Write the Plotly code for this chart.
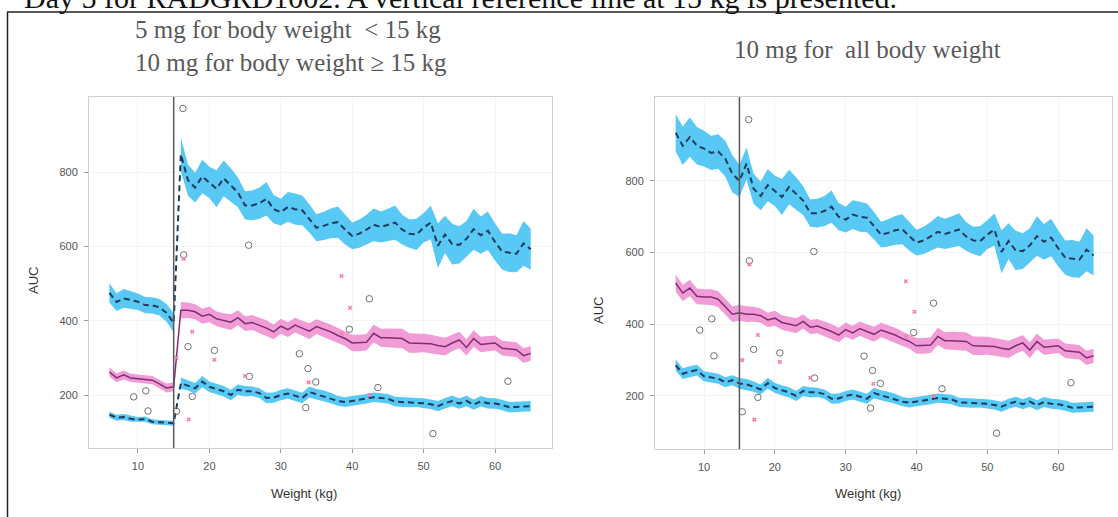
import plotly.graph_objects as go

# ---------------- data ----------------
REF_WEIGHT = 15
weights_lo5 = [6, 7, 8, 9, 10, 11, 12, 13, 14, 15]
weights_lo10 = [6, 7, 8, 9, 10, 11, 12, 13, 14]
weights_hi = list(range(15, 66))

# 5 mg below 15 kg (left panel)
p95_5mg = [475, 450, 460, 455, 451, 442, 441, 436, 421, 394]
p50_5mg = [262, 246, 254, 246, 244, 242, 240, 230, 219, 222]
p05_5mg = [147, 139, 141, 136, 134, 135, 128, 126, 125, 124]
hw95_5mg = [26, 24, 25, 24, 22, 22, 22, 22, 24, 26]
hw50_5mg = [12, 12, 12, 11, 11, 11, 11, 11, 12, 12]
hw05_5mg = [8, 8, 8, 8, 7, 7, 7, 7, 7, 7]

# 10 mg below 15 kg (right panel)
p95_10mg_lo = [934, 898, 922, 898, 890, 878, 882, 862, 820]
p50_10mg_lo = [515, 487, 501, 478, 476, 476, 470, 448, 428]
p05_10mg_lo = [286, 262, 268, 272, 255, 252, 248, 238, 244]
hw95_10mg_lo = [52, 54, 55, 52, 50, 48, 48, 50, 52]
hw50_10mg_lo = [24, 23, 23, 22, 22, 22, 22, 22, 22]
hw05_10mg_lo = [16, 15, 15, 15, 14, 14, 14, 14, 14]

# 10 mg from 15 kg upward (both panels)
p95_10mg_hi = [800, 848, 778, 758, 788, 772, 755, 783, 765, 745, 710, 710, 716, 728, 700, 692, 706,
               700, 697, 675, 650, 655, 662, 665, 645, 628, 634, 645, 658, 652, 657, 664, 645, 634,
               632, 650, 664, 602, 632, 606, 604, 620, 646, 630, 642, 612, 586, 583, 580, 608, 592]
p50_10mg_hi = [432, 428, 428, 424, 412, 417, 405, 400, 396, 408, 392, 395, 388, 380, 370, 385, 376,
               388, 380, 372, 384, 378, 370, 360, 352, 340, 340, 342, 366, 354, 354, 353, 352, 340,
               340, 340, 338, 333, 330, 340, 348, 328, 352, 336, 338, 340, 326, 324, 322, 306, 312]
p05_10mg_hi = [235, 232, 226, 218, 236, 222, 216, 210, 200, 214, 210, 210, 205, 192, 193, 200, 204,
               198, 192, 208, 202, 198, 192, 184, 181, 184, 186, 190, 194, 192, 190, 182, 181, 180,
               181, 178, 175, 170, 178, 184, 177, 184, 174, 183, 178, 177, 173, 167, 168, 169, 170]
hw95_10mg_hi = [45, 45, 42, 40, 45, 42, 50, 48, 45, 40, 38, 40, 42, 45, 38, 36, 40,
                42, 40, 38, 36, 38, 40, 42, 40, 36, 38, 40, 44, 42, 44, 46, 40, 38,
                42, 40, 45, 60, 50, 55, 50, 48, 55, 50, 52, 50, 48, 52, 50, 60, 55]
hw50_10mg_hi = [22, 22, 21, 20, 20, 21, 20, 20, 21, 20, 20, 20, 20, 21, 20, 20, 20,
                20, 20, 21, 20, 20, 20, 20, 20, 22, 22, 22, 24, 24, 25, 26, 26, 26,
                26, 25, 24, 24, 24, 22, 22, 22, 22, 21, 21, 20, 20, 20, 20, 20, 20]
hw05_10mg_hi = [15, 15, 14, 14, 15, 14, 14, 14, 14, 14, 14, 13, 13, 14, 14, 14, 14,
                14, 14, 15, 14, 14, 14, 13, 13, 13, 13, 13, 13, 13, 13, 13, 13, 13,
                13, 13, 13, 14, 14, 14, 14, 14, 14, 14, 14, 14, 14, 14, 14, 14, 14]

# observed data
obs_w_hi = [15.4, 16.3, 16.4, 17.0, 17.6, 20.7, 25.5, 25.6, 32.6, 33.8, 34.9, 33.5, 39.6, 42.4, 43.6, 51.3, 61.8]
obs_auc_hi = [156, 971, 577, 330, 196, 320, 603, 250, 311, 271, 235, 166, 377, 459, 220, 96, 237]
obs_w_lo = [9.4, 11.1, 11.4]
obs_auc_5mg = [195, 211, 157]
obs_auc_10mg = [384, 415, 312]
pink_w = [15.4, 16.4, 17.1, 17.6, 20.7, 25.0, 33.9, 38.5, 38.5, 39.7, 42.4]
pink_auc = [300, 567, 134, 370, 295, 251, 234, 520, 365, 435, 200]

x_ticks = [10, 20, 30, 40, 50, 60]
y_ticks = [200, 400, 600, 800]

# ---------------- style ----------------
CYAN = "#58C8F4"
PINK = "#F29CD7"
NAVY = "#1F3B5C"
PURPLE = "#7D2F72"
W, H = 1118, 517

fig = go.Figure()


def band(xs, center, hw, xa, ya, color):
    upper = [c + h for c, h in zip(center, hw)]
    lower = [c - h for c, h in zip(center, hw)]
    fig.add_trace(go.Scatter(x=list(xs) + list(xs)[::-1], y=upper + lower[::-1], fill="toself",
                             fillcolor=color, mode="lines", line=dict(width=0),
                             hoverinfo="skip", xaxis=xa, yaxis=ya))


def line(xs, ys, xa, ya, color, dash, width):
    fig.add_trace(go.Scatter(x=xs, y=ys, mode="lines", line=dict(color=color, dash=dash, width=width),
                             xaxis=xa, yaxis=ya))


def obs(xs, ys, xa, ya):
    fig.add_trace(go.Scatter(x=xs, y=ys, mode="markers", xaxis=xa, yaxis=ya,
                             marker=dict(symbol="circle-open", size=6.5, color="#707070",
                                         line=dict(width=1, color="#707070"))))


def pinks(xs, ys, xa, ya):
    fig.add_trace(go.Scatter(x=xs, y=ys, mode="markers", xaxis=xa, yaxis=ya,
                             marker=dict(symbol="x-thin", size=3.5,
                                         line=dict(width=1.5, color="#F07FAE"))))


# left panel: 5 mg <15 kg, 10 mg >=15 kg
wh = weights_hi[1:]
for c, hw, col in [(p95_5mg, hw95_5mg, CYAN), (p50_5mg, hw50_5mg, PINK), (p05_5mg, hw05_5mg, CYAN)]:
    band(weights_lo5, c, hw, "x", "y", col)
for c, hw, col in [(p95_10mg_hi, hw95_10mg_hi, CYAN), (p50_10mg_hi, hw50_10mg_hi, PINK),
                   (p05_10mg_hi, hw05_10mg_hi, CYAN)]:
    band(wh, c[1:], hw[1:], "x", "y", col)
line(weights_lo5 + wh, p95_5mg + p95_10mg_hi[1:], "x", "y", NAVY, "6px,4px", 2)
line(weights_lo5 + wh, p50_5mg + p50_10mg_hi[1:], "x", "y", PURPLE, "solid", 1.5)
line(weights_lo5 + wh, p05_5mg + p05_10mg_hi[1:], "x", "y", NAVY, "6px,4px", 2)
obs(obs_w_lo + obs_w_hi, obs_auc_5mg + obs_auc_hi, "x", "y")
pinks(pink_w, pink_auc, "x", "y")

# right panel: 10 mg for all body weight
wr = weights_lo10 + weights_hi
for c, hw, col in [(p95_10mg_lo + p95_10mg_hi, hw95_10mg_lo + hw95_10mg_hi, CYAN),
                   (p50_10mg_lo + p50_10mg_hi, hw50_10mg_lo + hw50_10mg_hi, PINK),
                   (p05_10mg_lo + p05_10mg_hi, hw05_10mg_lo + hw05_10mg_hi, CYAN)]:
    band(wr, c, hw, "x2", "y2", col)
line(wr, p95_10mg_lo + p95_10mg_hi, "x2", "y2", NAVY, "6px,4px", 2)
line(wr, p50_10mg_lo + p50_10mg_hi, "x2", "y2", PURPLE, "solid", 1.5)
line(wr, p05_10mg_lo + p05_10mg_hi, "x2", "y2", NAVY, "6px,4px", 2)
obs(obs_w_lo + obs_w_hi, obs_auc_10mg + obs_auc_hi, "x2", "y2")
pinks(pink_w, pink_auc, "x2", "y2")

axis_style = dict(showline=True, linecolor="#D0D0D0", linewidth=1, mirror=True,
                  ticks="outside", ticklen=4, tickcolor="#9A9A9A", tickwidth=1,
                  tickfont=dict(family="Liberation Sans", size=11, color="#555555"),
                  showgrid=True, gridcolor="#F4F4F4", zeroline=False, ticklabelstandoff=4)


def px_x(p):
    return p / W


def px_y(p):
    return 1 - p / H


fig.update_layout(
    width=W, height=H, margin=dict(l=0, r=0, t=0, b=0),
    paper_bgcolor="white", plot_bgcolor="white", showlegend=False,
    xaxis=dict(domain=[px_x(89), px_x(552)], range=[3.14, 67.98], tickvals=x_ticks, anchor="y", **axis_style),
    yaxis=dict(domain=[px_y(448), px_y(97)], range=[57.4, 1001.8], tickvals=y_ticks, anchor="x", **axis_style),
    xaxis2=dict(domain=[px_x(655), px_x(1112)], range=[3.08, 67.6], tickvals=x_ticks, anchor="y2", **axis_style),
    yaxis2=dict(domain=[px_y(449), px_y(97)], range=[52, 1034], tickvals=y_ticks, anchor="x2", **axis_style),
)

shapes = []
for xr, yr in [("x", "y domain"), ("x2", "y2 domain")]:
    shapes.append(dict(type="line", xref=xr, yref=yr, x0=REF_WEIGHT, x1=REF_WEIGHT, y0=0, y1=1,
                       line=dict(color="#5A5A5A", width=1.5), layer="above"))
# document frame
shapes.append(dict(type="line", xref="paper", yref="paper", x0=px_x(7), x1=1, y0=px_y(12), y1=px_y(12),
                   line=dict(color="#222222", width=1.5)))
shapes.append(dict(type="line", xref="paper", yref="paper", x0=px_x(7.5), x1=px_x(7.5), y0=0, y1=px_y(12),
                   line=dict(color="#222222", width=1.5)))
fig.update_layout(shapes=shapes)

serif = "Liberation Serif"
sans = "Liberation Sans"
ann = [
    dict(text="Day 5 for RADGRD1002. A vertical reference line at 15 kg is presented.",
         x=px_x(22), y=px_y(-2), xanchor="left", yanchor="middle",
         font=dict(family=serif, size=30, color="#111111")),
    dict(text="5 mg for body weight  < 15 kg", x=px_x(133), y=px_y(29), xanchor="left", yanchor="middle",
         font=dict(family=serif, size=25, color="#595959")),
    dict(text="10 mg for body weight ≥ 15 kg", x=px_x(133), y=px_y(62), xanchor="left", yanchor="middle",
         font=dict(family=serif, size=25, color="#595959")),
    dict(text="10 mg for  all body weight", x=px_x(732), y=px_y(50), xanchor="left", yanchor="middle",
         font=dict(family=serif, size=25, color="#595959")),
    dict(text="AUC", x=px_x(33), y=px_y(281), textangle=-90, xanchor="center", yanchor="middle",
         font=dict(family=sans, size=13, color="#333333")),
    dict(text="AUC", x=px_x(598), y=px_y(311), textangle=-90, xanchor="center", yanchor="middle",
         font=dict(family=sans, size=13, color="#333333")),
    dict(text="Weight (kg)", x=px_x(304), y=px_y(493), xanchor="center", yanchor="middle",
         font=dict(family=sans, size=13, color="#333333")),
    dict(text="Weight (kg)", x=px_x(868), y=px_y(493), xanchor="center", yanchor="middle",
         font=dict(family=sans, size=13, color="#333333")),
]
for a in ann:
    a.update(xref="paper", yref="paper", showarrow=False)
fig.update_layout(annotations=ann)

fig.write_html("out.html", config={"displayModeBar": False},
               post_script="document.body.style.margin='0px';")
